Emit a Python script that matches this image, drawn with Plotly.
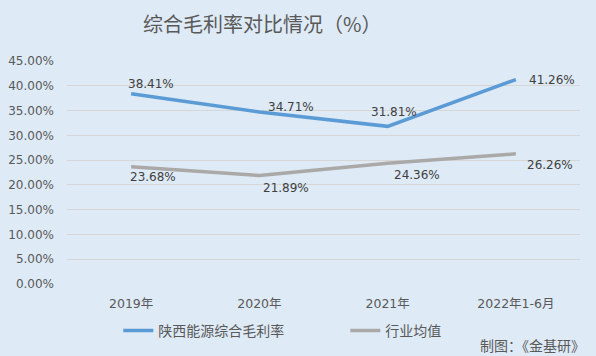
import plotly.graph_objects as go

categories = ["2019年", "2020年", "2021年", "2022年1-6月"]
company = [38.41, 34.71, 31.81, 41.26]
industry = [23.68, 21.89, 24.36, 26.26]
tick_vals = [0, 5, 10, 15, 20, 25, 30, 35, 40, 45]
tick_text = [f"{v:.2f}%" for v in tick_vals]

# label offsets in pixels (styling only)
company_shift = [(20, 10), (32, 5), (6, 14), (36, 0)]
industry_shift = [(22, -10), (27, -12), (29, -12), (34, -11)]

BG = "#DEEAF6"
FONT = "DejaVu Sans, Noto Sans CJK SC, sans-serif"
CJK = "Noto Sans CJK SC, sans-serif"

fig = go.Figure()
fig.add_trace(go.Scatter(
    x=categories, y=company, mode="lines", name="陕西能源综合毛利率",
    line=dict(color="#5B9BD5", width=3.5),
))
fig.add_trace(go.Scatter(
    x=categories, y=industry, mode="lines", name="行业均值",
    line=dict(color="#ABA8A8", width=3.5),
))

for series, shifts in ((company, company_shift), (industry, industry_shift)):
    for cat, val, (dx, dy) in zip(categories, series, shifts):
        fig.add_annotation(x=cat, y=val, xref="x", yref="y", text=f"{val:.2f}%",
                           showarrow=False, xshift=dx, yshift=dy,
                           font=dict(size=12, color="#404040", family=FONT))

fig.update_layout(
    width=596, height=356,
    paper_bgcolor=BG, plot_bgcolor=BG,
    margin=dict(l=67, r=16, t=61, b=72, autoexpand=False),
    font=dict(family=FONT, color="#595959", size=12),
    title=dict(text="综合毛利率对比情况（%）", x=0.44, xanchor="center",
               y=0.93, yanchor="middle",
               font=dict(size=20, color="#595959", family=CJK)),
    xaxis=dict(type="category", range=[-0.5, 3.5], showgrid=False, showline=False,
               zeroline=False, ticks="", automargin=False, ticklabelstandoff=10,
               tickfont=dict(size=12.5, color="#595959")),
    yaxis=dict(range=[0, 45], tickvals=tick_vals, ticktext=tick_text,
               showgrid=True, gridcolor="#D6D6D6", gridwidth=1, zeroline=False,
               showline=False, ticks="", automargin=False, ticklabelstandoff=12,
               tickfont=dict(size=12, color="#595959")),
    legend=dict(orientation="h", x=0.1, xanchor="left", y=-0.21, yanchor="middle",
                font=dict(size=14, color="#595959", family=CJK),
                bgcolor="rgba(0,0,0,0)", entrywidth=182, tracegroupgap=0),
    showlegend=True,
)
fig.add_annotation(text="制图：《金基研》", xref="paper", yref="paper",
                   x=1.0136, xanchor="right", y=-0.274, yanchor="middle", showarrow=False,
                   font=dict(size=14, color="#595959", family=CJK))

fig.write_html("out.html", config={"displayModeBar": False},
               post_script="document.body.style.margin='0px';")
